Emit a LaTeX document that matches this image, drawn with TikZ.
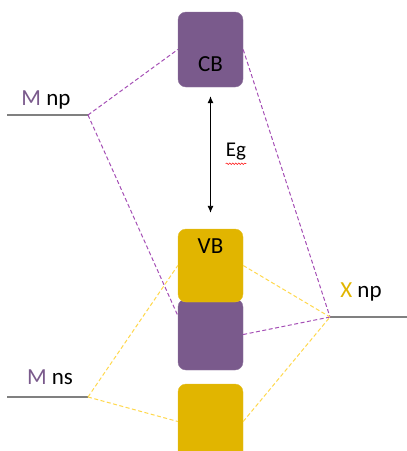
\documentclass[tikz,border=0pt]{standalone}
\usepackage{fontspec}
\setmainfont{Carlito}
\usetikzlibrary{positioning,arrows.meta,decorations.pathmorphing}

\definecolor{bandpurple}{HTML}{7A5A8C}
\definecolor{bandyellow}{HTML}{E1B500}
\definecolor{linkpurple}{HTML}{A54FB5}
\definecolor{linkyellow}{HTML}{FFD84D}
\definecolor{levelgray}{HTML}{808080}

\tikzset{
	band/.style={minimum width=65pt,inner sep=0pt,rounded corners=8pt},
	bandtext/.style={font=\fontsize{23}{27}\selectfont,inner sep=0pt},
	level/.style={line width=1.6pt,levelgray},
	plink/.style={line width=1pt,linkpurple,dash pattern=on 4pt off 2.5pt},
	ylink/.style={line width=1pt,linkyellow,dash pattern=on 4pt off 2.5pt}
}

\begin{document}
\begin{tikzpicture}[line cap=butt,line join=round,x=1pt,y=-1pt]
			\useasboundingbox (0,0) rectangle (407,451);
			\clip (0,0) rectangle (407,451);
			% energy levels
			\coordinate (mnp) at (88,115);
			\coordinate (mns) at (88,397);
			\coordinate (xnp) at (330,317);
			\draw [level] (7,115) -- (mnp);
			\draw [level] (7,397) -- (mns);
			\draw [level] (xnp) -- (407,317);
			\node [bandtext] (mnplabel) at (46,100) {\textcolor{bandpurple}{M} np};
			\node [bandtext] (mnslabel) at (50,377) {\textcolor{bandpurple}{M} ns};
			\node [bandtext] (xnplabel) at (361,292) {\textcolor{bandyellow}{X} np};
			% bands
			\node [band,minimum height=75pt,fill=bandpurple,draw=bandpurple!85!white] (cb) at (210.5,49.5) {};
			\node [band,minimum height=71pt,fill=bandpurple,draw=bandpurple!85!white] (pb) at (210.5,334.5) {};
			\node [band,minimum height=73pt,fill=bandyellow,draw=bandyellow!85!white] (vb) at (210.5,265.5) {};
			\node [band,minimum height=75pt,fill=bandyellow,draw=bandyellow!85!white] (lb) at (210.5,421.5) {};
			\node [bandtext] (cbtext) at (210.5,64) {CB};
			\node [bandtext] (vbtext) at (210.5,246) {VB};
			% links
			\draw [plink] (mnp) -- (cb.west);
			\draw [plink] (mnp) -- (pb.150);
			\draw [plink] (cb.east) -- (xnp);
			\draw [plink] (pb.east) -- (xnp);
			\draw [ylink] (mns) -- (vb.west);
			\draw [ylink] (mns) -- (lb.west);
			\draw [ylink] (vb.east) -- (xnp);
			\draw [ylink] (lb.east) -- (xnp);
			% gap
			\draw [line width=0.9pt,{Latex[length=7pt,width=6pt]}-{Latex[length=7pt,width=6pt]},shorten <=9pt,shorten >=16pt] (cb) -- (vb);
			\node [bandtext,font=\fontsize{21}{25}\selectfont] (eg) at (236,152) {Eg};
			\draw [red,line width=0.5pt,decorate,decoration={snake,amplitude=0.8pt,segment length=3pt}] ([yshift=-3pt]eg.south west) -- ([yshift=-3pt]eg.south east);
\end{tikzpicture}
\end{document}
